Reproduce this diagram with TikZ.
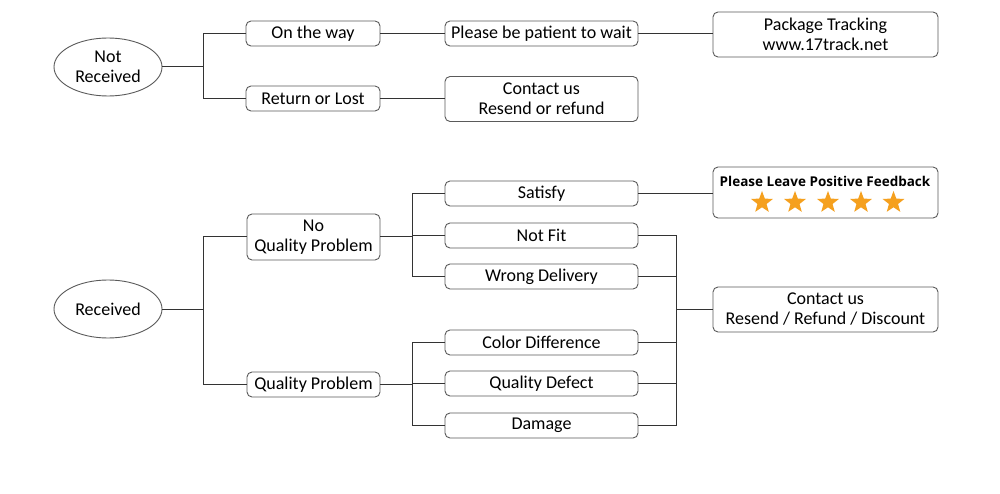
\documentclass[tikz,border=0pt]{standalone}
\usepackage{fontspec}
\setmainfont{Carlito}
\newfontfamily\fbfont{Open Sans}
\usetikzlibrary{shapes.geometric}
\definecolor{linegray}{HTML}{333333}
\definecolor{boxgray}{HTML}{5A5A5A}
\definecolor{starorange}{HTML}{F5A01E}
\tikzset{
  box/.style={draw=boxgray, line width=0.9pt, rounded corners=5pt, fill=white,
    minimum height=25, inner sep=0pt, align=center, font=\fontsize{18}{20}\selectfont, text=black},
  oval/.style={draw=boxgray, line width=0.9pt, ellipse, minimum width=108, minimum height=58,
    inner sep=0pt, align=center, font=\fontsize{18}{20}\selectfont},
  conn/.style={draw=linegray, line width=1pt},
  staricon/.style={star, star points=5, star point ratio=2.4, minimum size=23, fill=starorange, draw=none, inner sep=0pt}
}
\begin{document}
\begin{tikzpicture}[x=1pt,y=-1pt]
\fill[white] (0,0) rectangle (1000,494);
\useasboundingbox (0,0) rectangle (1000,494);

% ---- Not received part
\node[oval] (nr) at (108,67) {Not\\Received};
\node[box, minimum width=134] (otw) at (313,33.5) {On the way};
\node[box, minimum width=134] (rol) at (313,98.5) {Return or Lost};
\node[box, minimum width=193] (wait) at (541.5,33.5) {Please be patient to wait};
\node[box, minimum width=225, minimum height=45] (track) at (825.5,34.5) {Package Tracking\\www.17track.net};
\node[box, minimum width=193, minimum height=45] (cu1) at (541.5,99) {Contact us\\Resend or refund};

\coordinate (j1) at (203,67);
\draw[conn] (nr.east) -- (j1);
\draw[conn] (j1) |- (otw.west);
\draw[conn] (j1) |- (rol.west);
\draw[conn] (otw.east) -- (wait.west);
\draw[conn] (wait.east) -- (track.west |- wait.east);
\draw[conn] (rol.east) -- (cu1.west |- rol.east);

% ---- Received part
\node[oval] (rc) at (108,309) {Received};
\node[box, minimum width=133, minimum height=46] (nqp) at (313.5,237) {No\\Quality Problem};
\node[box, minimum width=133] (qp) at (313.5,384.5) {Quality Problem};

\node[box, minimum width=193] (sat) at (541.5,193.5) {Satisfy};
\node[box, minimum width=193] (nf) at (541.5,235.5) {Not Fit};
\node[box, minimum width=193] (wd) at (541.5,276.5) {Wrong Delivery};
\node[box, minimum width=193] (cd) at (541.5,342.5) {Color Difference};
\node[box, minimum width=193] (qd) at (541.5,383.5) {Quality Defect};
\node[box, minimum width=193] (dm) at (541.5,425.5) {Damage};

\node[box, minimum width=225, minimum height=51] (fb) at (825.5,192.5) {};
\node[font=\fbfont\bfseries\fontsize{13.5}{16}\selectfont, inner sep=0pt] (fbt) at (825,181) {Please Leave Positive Feedback};
\node[staricon] (s1) at (762,202.5) {};
\node[staricon] (s2) at (795,202.5) {};
\node[staricon] (s3) at (828,202.5) {};
\node[staricon] (s4) at (861,202.5) {};
\node[staricon] (s5) at (893.5,202.5) {};

\node[box, minimum width=225, minimum height=45] (cu2) at (825.5,309.5) {Contact us\\Resend / Refund / Discount};

\coordinate (j2) at (203,309);
\draw[conn] (rc.east) -- (j2);
\draw[conn] (j2) |- (nqp.west);
\draw[conn] (j2) |- (qp.west);

\coordinate (j3) at (412,237);
\draw[conn] (nqp.east) -- (j3);
\draw[conn] (j3) |- (sat.west);
\draw[conn] (j3) |- (nf.west);
\draw[conn] (j3) |- (wd.west);

\coordinate (j4) at (412,384.5);
\draw[conn] (qp.east) -- (j4);
\draw[conn] (j4) |- (cd.west);
\draw[conn] (j4) |- (qd.west);
\draw[conn] (j4) |- (dm.west);

\draw[conn] (sat.east) -- (fb.west |- sat.east);

\coordinate (j5) at (676,309.5);
\draw[conn] (j5) -- (cu2.west);
\draw[conn] (nf.east) -| (j5);
\draw[conn] (wd.east) -| (j5);
\draw[conn] (cd.east) -| (j5);
\draw[conn] (qd.east) -| (j5);
\draw[conn] (dm.east) -| (j5);
\end{tikzpicture}
\end{document}
